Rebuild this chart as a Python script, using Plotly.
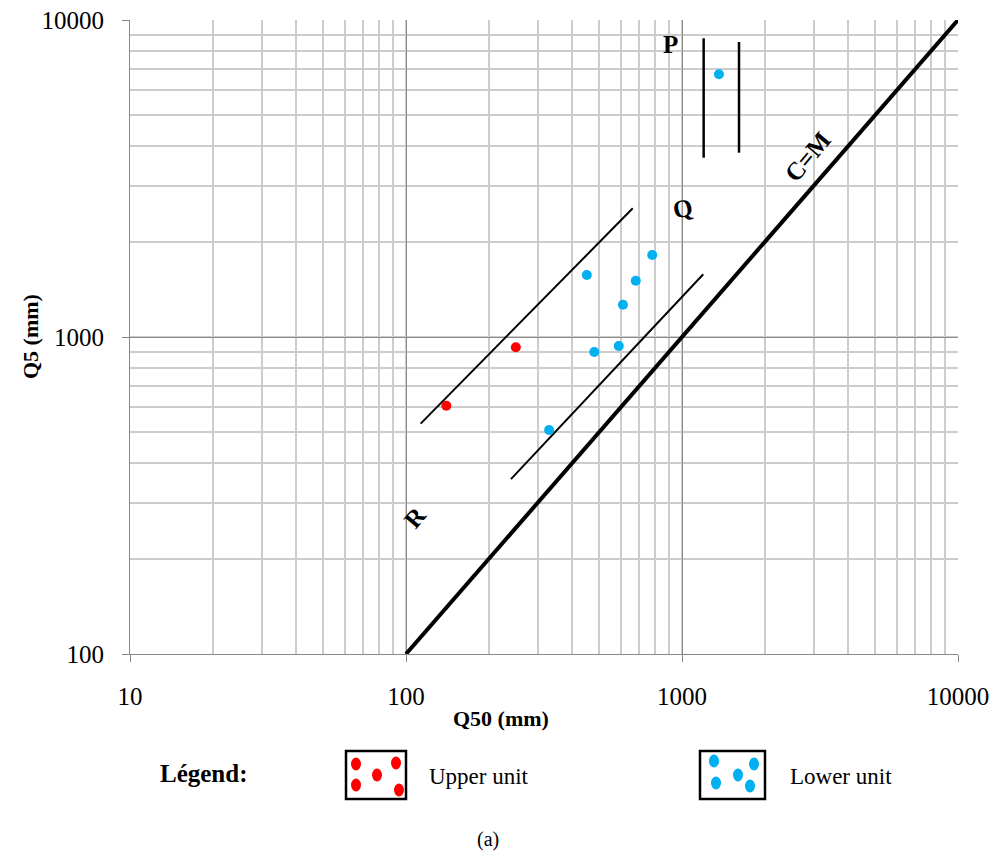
import numpy as np
import plotly.graph_objects as go

# ---- data ----
upper_q50 = [140, 250]
upper_q5 = [607, 928]
lower_q50 = [330, 452, 481, 590, 611, 680, 780, 1361]
lower_q5 = [509, 1569, 897, 937, 1264, 1505, 1814, 6742]

cm_x = [100, 10000]
cm_y = [100, 10000]
r_upper_x = [113, 663]
r_upper_y = [533, 2547]
r_lower_x = [240, 1194]
r_lower_y = [356, 1577]
p_left_x = [1198, 1198]
p_left_y = [3678, 8757]
p_right_x = [1609, 1609]
p_right_y = [3814, 8522]

labels = ["P", "Q", "R", "C=M"]
label_x = [905, 1000, 108, 2861]
label_y = [8398, 2552, 269, 3698]
label_angle = [0, -12, -50, -50]

tick_vals = [10, 100, 1000, 10000]
ytick_vals = [100, 1000, 10000]

FONT = "Liberation Serif, Times New Roman, serif"

fig = go.Figure()
for xs, ys, w in [(cm_x, cm_y, 4), (r_upper_x, r_upper_y, 2), (r_lower_x, r_lower_y, 2),
                  (p_left_x, p_left_y, 2.5), (p_right_x, p_right_y, 2.5)]:
    fig.add_trace(go.Scatter(x=xs, y=ys, mode="lines", line=dict(color="black", width=w),
                             showlegend=False, hoverinfo="skip"))

fig.add_trace(go.Scatter(x=upper_q50, y=upper_q5, mode="markers", name="Upper unit",
                         marker=dict(color="#FF0000", size=10), showlegend=False))
fig.add_trace(go.Scatter(x=lower_q50, y=lower_q5, mode="markers", name="Lower unit",
                         marker=dict(color="#00B0F0", size=10), showlegend=False))

for t, x, y, a in zip(labels, label_x, label_y, label_angle):
    fig.add_annotation(x=np.log10(x), y=np.log10(y), text="<b>%s</b>" % t, showarrow=False,
                       textangle=a, xanchor="center", yanchor="middle",
                       font=dict(family=FONT, size=25, color="black"))

axis_common = dict(type="log", showline=True, linecolor="#888888", linewidth=1,
                   ticks="outside", ticklen=7, tickcolor="#888888",
                   showgrid=True, gridcolor="#8c8c8c", gridwidth=1,
                   tickfont=dict(family=FONT, size=25, color="black"),
                   minor=dict(dtick="D1", showgrid=True, gridcolor="#cccccc", gridwidth=1.5, ticks=""),
                   zeroline=False, mirror=False, automargin=False)

fig.update_xaxes(range=[1, 4], tickvals=tick_vals, ticktext=[str(v) for v in tick_vals],
                 ticklabelstandoff=13, **axis_common)
fig.update_yaxes(range=[2, 4], tickvals=ytick_vals, ticktext=[str(v) for v in ytick_vals],
                 ticklabelstandoff=13, **axis_common)

W, H = 1006, 857
L, R, T, B = 130, 48, 20, 203
pw, ph = W - L - R, H - T - B

def px(x):
    return (x - L) / pw

def py(y):
    return (H - B - y) / ph

def note(xp, yp, text, size, angle=0):
    fig.add_annotation(x=px(xp), y=py(yp), xref="paper", yref="paper", text=text,
                       showarrow=False, textangle=angle, xanchor="center", yanchor="middle",
                       font=dict(family=FONT, size=size, color="black"))

# axis titles
note(501, 718, "<b>Q50 (mm)</b>", 22)
note(30, 337, "<b>Q5 (mm)</b>", 22, -90)

# legend
note(204, 773, "<b>Légend:</b>", 25)
note(479, 776, "Upper unit", 23)
note(841, 776, "Lower unit", 23)
note(488, 839, "(a)", 20)

shapes = []
for (x0, x1) in [(346, 406), (700, 765)]:
    shapes.append(dict(type="rect", xref="paper", yref="paper", x0=px(x0), x1=px(x1),
                       y0=py(799), y1=py(751), line=dict(color="black", width=2.5)))
red_dots = [(356, 764), (396, 763), (377, 775), (356, 785), (399, 790)]
blue_dots = [(714, 761), (754, 764), (738, 775), (716, 783), (750, 786)]
for dots, col in [(red_dots, "#FF0000"), (blue_dots, "#00B0F0")]:
    for (cx, cy) in dots:
        shapes.append(dict(type="circle", xref="paper", yref="paper",
                           x0=px(cx - 5), x1=px(cx + 5), y0=py(cy + 6.5), y1=py(cy - 6.5),
                           fillcolor=col, line=dict(width=0)))
fig.update_layout(shapes=shapes)

fig.update_layout(width=W, height=H, margin=dict(l=L, r=R, t=T, b=B),
                  plot_bgcolor="white", paper_bgcolor="white", showlegend=False)

fig.write_html("out.html")
